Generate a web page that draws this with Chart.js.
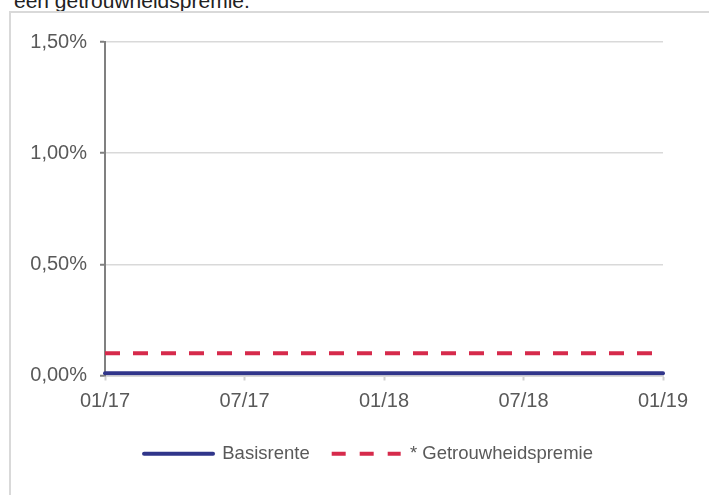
<!DOCTYPE html>
<html>
<head>
<meta charset="utf-8">
<script src="https://cdn.jsdelivr.net/npm/chart.js@4"></script>
<style>
  html, body { margin: 0; padding: 0; background: #ffffff; overflow: hidden; width: 709px; height: 495px; }
  #title { position: absolute; left: 14px; top: -10px; font-family: 'Liberation Sans', Arial, sans-serif; font-size: 21px; line-height: 21px; color: #222222; white-space: nowrap; }
  #frame { position: absolute; left: 9px; top: 11px; width: 900px; height: 700px; border: 2px solid #d9d9d9; box-sizing: border-box; }
  #c { position: absolute; left: 0; top: 0; }
</style>
</head>
<body>
<div id="title">een getrouwheidspremie.</div>
<div id="frame"></div>
<canvas id="c" width="737" height="495"></canvas>
<script>
const categories = ['01/17','02/17','03/17','04/17','05/17','06/17','07/17','08/17','09/17','10/17','11/17','12/17',
                    '01/18','02/18','03/18','04/18','05/18','06/18','07/18','08/18','09/18','10/18','11/18','12/18','01/19'];
const basisrente = [0.01,0.01,0.01,0.01,0.01,0.01,0.01,0.01,0.01,0.01,0.01,0.01,
                    0.01,0.01,0.01,0.01,0.01,0.01,0.01,0.01,0.01,0.01,0.01,0.01,0.01];
const getrouwheidspremie = [0.10,0.10,0.10,0.10,0.10,0.10,0.10,0.10,0.10,0.10,0.10,0.10,
                            0.10,0.10,0.10,0.10,0.10,0.10,0.10,0.10,0.10,0.10,0.10,0.10,0.10];
const yTickLabels = ['0,00%','0,50%','1,00%','1,50%'];
const seriesNames = ['Basisrente', '* Getrouwheidspremie'];

const FONT = "'Liberation Sans', Arial, sans-serif";

new Chart(document.getElementById('c'), {
  type: 'line',
  data: {
    labels: categories,
    datasets: [
      {
        label: seriesNames[0],
        data: basisrente,
        borderColor: '#30358a',
        backgroundColor: '#30358a',
        borderWidth: 4,
        borderCapStyle: 'round',
        pointRadius: 0,
        tension: 0,
        fill: false,
        yAxisID: 'y'
      },
      {
        label: seriesNames[1],
        data: getrouwheidspremie,
        borderColor: '#d62a4b',
        backgroundColor: '#d62a4b',
        borderWidth: 4,
        borderDash: [15, 13],
        borderCapStyle: 'butt',
        pointRadius: 0,
        tension: 0,
        fill: false,
        yAxisID: 'y'
      }
    ]
  },
  options: {
    responsive: false,
    animation: false,
    devicePixelRatio: 1,
    layout: { padding: { top: 42, left: 0, right: 0, bottom: 22 } },
    plugins: {
      legend: {
        display: true,
        position: 'bottom',
        labels: {
          usePointStyle: true,
          pointStyle: 'line',
          pointStyleWidth: 69,
          boxHeight: 18,
          padding: 22,
          color: '#595959',
          font: { family: FONT, size: 18.5 },
          generateLabels: (chart) => {
            const items = Chart.defaults.plugins.legend.labels.generateLabels(chart);
            return items.map((item) => {
              const ds = chart.data.datasets[item.datasetIndex];
              item.lineDash = ds.borderDash ? [14, 14] : [];
              item.lineWidth = ds.borderWidth;
              item.lineCap = ds.borderCapStyle;
              item.strokeStyle = ds.borderColor;
              item.fillStyle = ds.borderColor;
              item.pointStyle = 'line';
              return item;
            });
          }
        }
      },
      tooltip: { enabled: false },
      title: { display: false }
    },
    scales: {
      x: {
        type: 'category',
        offset: false,
        grid: {
          drawOnChartArea: false,
          drawTicks: true,
          tickLength: 5,
          tickWidth: 2,
          tickColor: (ctx) => (ctx.index % 6 === 0 ? '#d0d0d0' : 'rgba(0,0,0,0)')
        },
        border: { display: true, color: '#d9d9d9', width: 2 },
        ticks: {
          autoSkip: false,
          maxRotation: 0,
          minRotation: 0,
          padding: 9,
          color: '#595959',
          font: { family: FONT, size: 20 },
          callback: (value, index) => (index % 6 === 0 ? categories[index] : '')
        },
        afterFit: (scale) => { scale.height = 47; }
      },
      y: {
        position: 'left',
        min: 0,
        max: 1.5,
        grid: {
          color: '#d9d9d9',
          lineWidth: 1.5,
          drawTicks: true,
          tickLength: 5,
          tickWidth: 2,
          tickColor: '#808080'
        },
        border: { display: true, color: '#808080', width: 2 },
        ticks: {
          stepSize: 0.5,
          padding: 13,
          color: '#595959',
          font: { family: FONT, size: 20 },
          callback: (value, index) => yTickLabels[index]
        },
        afterFit: (scale) => { scale.width = 105; }
      },
      yRightSpace: {
        position: 'right',
        display: true,
        grid: { display: false, drawTicks: false, drawOnChartArea: false },
        border: { display: false },
        ticks: { display: false },
        afterFit: (scale) => { scale.width = 74; }
      }
    }
  }
});
</script>
</body>
</html>
